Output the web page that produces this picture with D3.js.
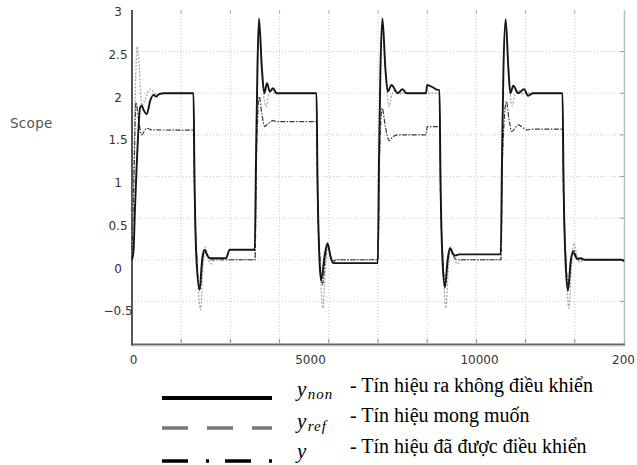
<!DOCTYPE html>
<html><head><meta charset="utf-8">
<script src="https://cdn.jsdelivr.net/npm/d3@7"></script>
<style>body{margin:0;background:#fff;} svg{display:block;background:#fff;}</style>
</head><body><svg id="c" width="637" height="465"></svg>
<script>
// ---- data (time, value) ----
const yNon = [
  [0,0],[60,0.1],[120,0.6],[250,1.5],[330,1.83],[400,1.85],[470,1.8],[600,1.75],[750,1.92],[880,1.98],[980,1.96],[1100,1.99],[1300,2.0],[2500,2.0],
  [2540,1.0],[2620,0.0],[2750,-0.36],[2850,0.0],[2950,0.12],[3050,0.06],[3160,0.02],[3820,0.02],[3970,0.12],[4990,0.12],
  [5040,1.2],[5100,2.3],[5160,2.9],[5280,2.3],[5380,2.0],[5490,2.12],[5600,2.02],[5730,2.06],[5880,2.0],[7500,2.0],
  [7540,1.0],[7620,0.0],[7690,-0.25],[7830,0.05],[7950,0.2],[8060,0.05],[8170,-0.04],[9990,-0.04],
  [10040,1.2],[10100,2.3],[10180,2.9],[10300,2.3],[10400,2.02],[10550,2.1],[10800,2.0],[11000,2.05],[11160,2.0],[11950,2.0],[12000,2.1],[12230,2.07],[12440,2.04],[12500,2.04],
  [12540,1.0],[12620,0.0],[12720,-0.33],[12830,0.0],[12920,0.14],[13050,0.07],[13150,0.05],[13300,0.065],[14990,0.065],
  [15040,1.2],[15100,2.3],[15190,2.89],[15300,2.3],[15380,2.0],[15500,2.09],[15700,2.0],[15940,2.05],[16100,1.97],[16300,2.0],[17500,2.0],
  [17540,1.0],[17620,0.0],[17720,-0.37],[17840,0.0],[17930,0.09],[18100,0.01],[18250,0.02],[18400,0.0],[19900,0.0],[20000,-0.02]
];
const yRef = [
  [0,0],[80,1.2],[150,2.2],[210,2.56],[300,2.3],[390,1.85],[500,1.9],[730,2.05],[850,2.02],[1060,1.98],[1270,2.0],[2500,2.0],
  [2540,1.0],[2640,0.0],[2790,-0.6],[2880,-0.1],[2980,0.15],[3080,0.05],[3200,-0.05],[3350,0.0],[5000,0.0],
  [5050,1.5],[5160,2.8],[5280,2.2],[5450,1.84],[5560,1.98],[5680,2.04],[5800,2.0],[7500,2.0],
  [7540,1.0],[7640,0.0],[7760,-0.58],[7860,-0.1],[7970,0.15],[8080,0.05],[8200,-0.03],[8350,0.0],[10000,0.0],
  [10050,1.5],[10180,2.8],[10310,2.2],[10450,1.84],[10560,1.98],[10700,2.03],[10850,2.0],[12500,2.0],
  [12540,1.0],[12640,0.0],[12760,-0.58],[12860,-0.1],[12960,0.16],[13070,0.05],[13220,-0.05],[13400,0.0],[15000,0.0],
  [15050,1.5],[15190,2.8],[15310,2.2],[15450,1.85],[15560,1.98],[15700,2.03],[15850,2.0],[17500,2.0],
  [17540,1.0],[17640,0.0],[17760,-0.58],[17860,-0.1],[17970,0.2],[18080,0.05],[18200,-0.03],[18350,0.0],[19950,0.0],[20000,-0.02]
];
const yCtl = [
  [0,0],[80,1.0],[160,1.89],[260,1.7],[390,1.5],[600,1.58],[800,1.56],[2500,1.556],
  [2540,0.8],[2640,0.0],[2760,-0.35],[2860,-0.05],[2960,0.12],[3070,0.04],[3180,0.0],[5000,0.0],
  [5060,1.2],[5170,1.96],[5280,1.75],[5400,1.6],[5520,1.63],[5730,1.67],[5900,1.66],[7500,1.66],
  [7540,0.8],[7640,0.0],[7740,-0.3],[7850,0.0],[7960,0.18],[8070,0.04],[8180,-0.02],[8300,0.0],[10000,0.0],
  [10060,1.2],[10170,1.82],[10300,1.6],[10450,1.43],[10620,1.48],[10780,1.5],[11950,1.5],[12000,1.6],[12500,1.6],
  [12540,0.8],[12640,0.0],[12740,-0.3],[12850,0.0],[12940,0.13],[13060,0.05],[13200,0.0],[15000,0.0],
  [15060,1.2],[15220,1.9],[15320,1.7],[15440,1.54],[15700,1.62],[16050,1.56],[16300,1.57],[17500,1.57],
  [17540,0.8],[17640,0.0],[17740,-0.33],[17850,0.0],[17950,0.12],[18080,0.02],[18200,0.0],[20000,0.0]
];
const xGridVals = [2000,4000,6000,8000,10000,12000,14000,16000,18000];
const xTickVals = [0,5000,10000,20000];
const xTickText = ["0","5000","10000","200"];
const yTickVals = [-0.5,0,0.5,1,1.5,2,2.5,3];
const yGridVals = [-0.5,0,0.5,1,1.5,2,2.5];
const legendSyms = ["non","ref",""];
const legendTexts = ["- Tín hiệu ra không điều khiển","- Tín hiệu mong muốn","- Tín hiệu đã được điều khiển"];

// ---- layout ----
const svg = d3.select("#c");
const L = 132, R = 624, T = 10, B = 343;
const x = d3.scaleLinear().domain([0,20000]).range([L,R]);
const y = d3.scaleLinear().domain([-1,3]).range([B,T]);
// label placement scales (labels in the source are offset from grid)
const xLab = d3.scaleLinear().domain([0,5000,10000,20000]).range([133,310,479,623]);
const yLab = d3.scaleLinear().domain([-0.5,3]).range([311,12]);

// grid
svg.append("g").selectAll("line").data(xGridVals).join("line")
  .attr("x1",d=>x(d)).attr("x2",d=>x(d)).attr("y1",T).attr("y2",B)
  .attr("stroke","#c8c8c8").attr("stroke-width",1).attr("stroke-dasharray","1,2");
svg.append("g").selectAll("line").data(yGridVals).join("line")
  .attr("x1",L).attr("x2",R).attr("y1",d=>y(d)).attr("y2",d=>y(d))
  .attr("stroke","#c8c8c8").attr("stroke-width",1).attr("stroke-dasharray","1,2");

// ticks (inward)
svg.append("g").selectAll("line").data(xGridVals).join("line")
  .attr("x1",d=>x(d)).attr("x2",d=>x(d)).attr("y1",B).attr("y2",B-4)
  .attr("stroke","#888");
svg.append("g").selectAll("line").data(xGridVals).join("line")
  .attr("x1",d=>x(d)).attr("x2",d=>x(d)).attr("y1",T).attr("y2",T+3)
  .attr("stroke","#aaa");
svg.append("g").selectAll("line").data(yGridVals).join("line")
  .attr("x1",R).attr("x2",R-4).attr("y1",d=>y(d)).attr("y2",d=>y(d))
  .attr("stroke","#999");

// axes frame
svg.append("line").attr("x1",R+0.5).attr("x2",R+0.5).attr("y1",T).attr("y2",B+2)
  .attr("stroke","#bbb").attr("stroke-width",1.5);
svg.append("line").attr("x1",L).attr("x2",R+1).attr("y1",B+1.5).attr("y2",B+1.5)
  .attr("stroke","#666").attr("stroke-width",2);
svg.append("line").attr("x1",L).attr("x2",R+1).attr("y1",B+3).attr("y2",B+3)
  .attr("stroke","#ccc").attr("stroke-width",1);
svg.append("line").attr("x1",L).attr("x2",L).attr("y1",T).attr("y2",B+2.5)
  .attr("stroke","#555").attr("stroke-width",2);

// series
const line = d3.line().x(d=>x(d[0])).y(d=>y(d[1])).curve(d3.curveMonotoneX);
svg.append("path").datum(yRef).attr("d",line).attr("fill","none")
  .attr("stroke","#a9a9a9").attr("stroke-width",1.3).attr("stroke-dasharray","2,1.5");
svg.append("path").datum(yCtl).attr("d",line).attr("fill","none")
  .attr("stroke","#3a3a3a").attr("stroke-width",1.2).attr("stroke-dasharray","5,1.5,1.5,1.5");
svg.append("path").datum(yNon).attr("d",line).attr("fill","none")
  .attr("stroke","#151515").attr("stroke-width",1.9).attr("stroke-linejoin","round");

// tick labels
const xa = svg.append("g").attr("transform","translate(0,355)")
  .call(d3.axisBottom(xLab).tickValues(xTickVals).tickFormat((d,i)=>xTickText[i]).tickSize(0).tickPadding(0));
xa.select(".domain").remove();
xa.selectAll("text").attr("font-family","DejaVu Sans").attr("font-size",12).attr("fill","#333");

const ya = svg.append("g").attr("transform","translate(118,0)")
  .call(d3.axisLeft(yLab).tickValues(yTickVals).tickFormat(d3.format("")).tickSize(0).tickPadding(0));
ya.select(".domain").remove();
ya.selectAll("text").attr("x",0).attr("text-anchor","middle")
  .attr("font-family","DejaVu Sans").attr("font-size",12).attr("fill","#333");

// Scope label
svg.append("text").attr("x",10).attr("y",128).text("Scope")
  .attr("font-family","DejaVu Sans").attr("font-size",13.5).attr("letter-spacing",0.3).attr("fill","#555");

// legend
const legRowsLineY = [398, 428, 461];
const legTextY = [392, 422, 453];
const legMathY = [396, 427.5, 458];
const legStyles = [
  {stroke:"#000", w:4, dash:null},
  {stroke:"#777", w:3.5, dash:"26,19"},
  {stroke:"#000", w:3.5, dash:"26,18,3,16"}
];
const lg = svg.append("g");
lg.selectAll("line").data(legendSyms).join("line")
  .attr("x1",162).attr("x2",272)
  .attr("y1",(d,i)=>legRowsLineY[i]).attr("y2",(d,i)=>legRowsLineY[i])
  .attr("stroke",(d,i)=>legStyles[i].stroke).attr("stroke-width",(d,i)=>legStyles[i].w)
  .attr("stroke-dasharray",(d,i)=>legStyles[i].dash);
const mt = lg.selectAll("text.m").data(legendSyms).join("text").attr("class","m")
  .attr("x",297).attr("y",(d,i)=>legMathY[i])
  .attr("font-family","Liberation Serif").attr("font-style","italic").attr("font-size",21).attr("fill","#000");
mt.append("tspan").text("y");
mt.filter(d=>d!=="").append("tspan").attr("dy",3).attr("dx",1.5).attr("font-size",15).attr("letter-spacing",1).text(d=>d);
lg.selectAll("text.t").data(legendTexts).join("text").attr("class","t")
  .attr("x",350).attr("y",(d,i)=>legTextY[i]).text(d=>d)
  .attr("font-family","Liberation Serif").attr("font-size",20).attr("fill","#000");
</script></body></html>
